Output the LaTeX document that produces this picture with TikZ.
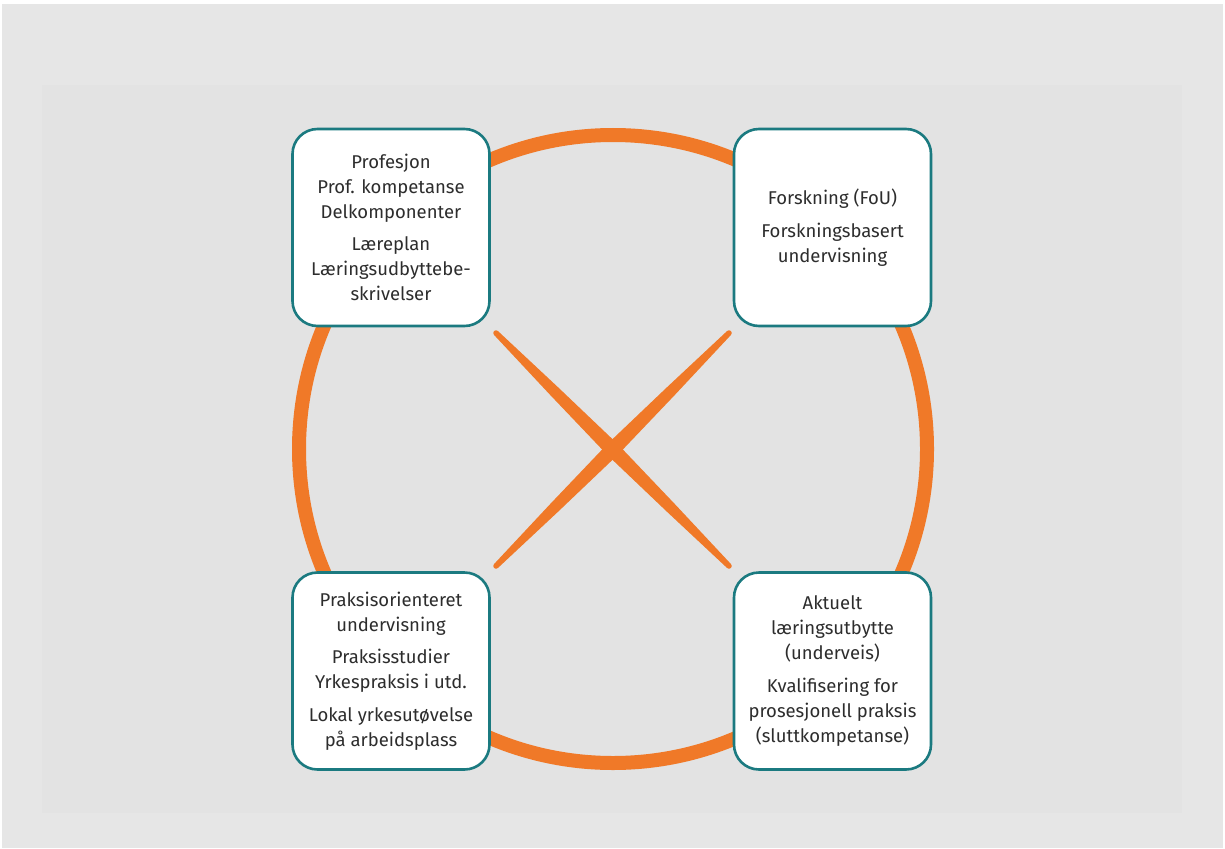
\documentclass[tikz,border=0pt]{standalone}
\usepackage{fontspec}
\setmainfont{Fira Sans}
\definecolor{bgout}{RGB}{230,230,230}
\definecolor{bgin}{RGB}{227,227,227}
\definecolor{ringorange}{RGB}{240,121,40}
\definecolor{boxteal}{RGB}{27,122,128}
\definecolor{txt}{RGB}{45,45,45}
\begin{document}
\begin{tikzpicture}[x=1pt,y=-1pt,
  box/.style={draw=boxteal, line width=2.6pt, fill=white, rounded corners=25pt,
    minimum width=197pt, minimum height=197pt, align=center, text=txt,
    font=\fontsize{18.5}{25}\selectfont, inner sep=0pt},
  ring/.style={draw=ringorange, line width=14pt},
  xarm/.style={fill=ringorange, draw=none}]
\useasboundingbox (0,0) rectangle (1225,848);
\fill[white] (0,0) rectangle (1225,848);
\fill[bgout] (2,4) rectangle (1223,848);
\fill[bgin] (42,85) rectangle (1182,813);
% ring
\coordinate (c) at (613,449);
\draw[ring] (c) circle (314pt);
% X
\fill[xarm] (494.06,334.94) -- (550.36,395.14) -- (607.20,454.80) -- (666.86,511.64) -- (727.06,567.94)
  -- (730.94,564.06) -- (674.64,503.86) -- (617.80,444.20) -- (558.14,387.36) -- (497.94,331.06) -- cycle;
\fill[xarm] (730.94,334.94) -- (674.64,395.14) -- (617.80,454.80) -- (558.14,511.64) -- (497.94,567.94)
  -- (494.06,564.06) -- (550.36,503.86) -- (607.20,444.20) -- (666.86,387.36) -- (727.06,331.06) -- cycle;
\foreach \p in {(496,333),(729,333),(496,566),(729,566)} \fill[ringorange] \p circle (2.75pt);
% boxes
\node[box] (tl) at (391,227.5) {Profesjon\\Prof. kompetanse\\Delkomponenter\\[7pt]L\ae{}replan\\L\ae{}ringsudbyttebe-\\skrivelser};
\node[box] (tr) at (832.5,227.5) {Forskning (FoU)\\[8pt]Forskningsbasert\\undervisning};
\node[box] (bl) at (391,671) {Praksisorienteret\\undervisning\\[7pt]Praksisstudier\\Yrkespraksis i utd.\\[8pt]Lokal yrkesut\o{}velse\\p\aa{} arbeidsplass};
\node[box] (br) at (832.5,671) {Aktuelt\\l\ae{}ringsutbytte\\(underveis)\\[8pt]Kvalifisering for\\prosesjonell praksis\\(sluttkompetanse)};
\end{tikzpicture}
\end{document}
